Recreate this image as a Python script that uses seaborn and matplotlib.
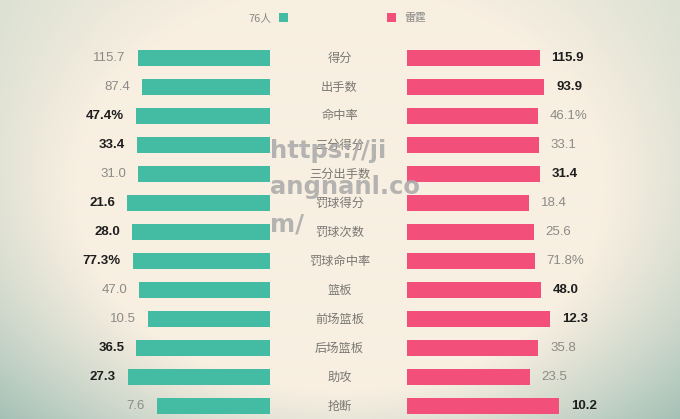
import numpy as np
import pandas as pd
import seaborn as sns
import matplotlib.pyplot as plt
import matplotlib.transforms as mtransforms
from matplotlib.patches import Rectangle

# 数据
categories = ["得分", "出手数", "命中率", "三分得分", "三分出手数", "罚球得分", "罚球次数",
              "罚球命中率", "篮板", "前场篮板", "后场篮板", "助攻", "抢断"]
sixers = [115.7, 87.4, 47.4, 33.4, 31.0, 21.6, 28.0, 77.3, 47.0, 10.5, 36.5, 27.3, 7.6]
thunder = [115.9, 93.9, 46.1, 33.1, 31.4, 18.4, 25.6, 71.8, 48.0, 12.3, 35.8, 23.5, 10.2]
is_pct = [False, False, True, False, False, False, False, True, False, False, False, False, False]
teams = ["76人", "雷霆"]

teal = "#44bba3"
pink = "#f24f7a"
cjk = ["Noto Sans CJK SC", "DejaVu Sans"]
num_font = ["Liberation Sans", "DejaVu Sans"]

df = pd.DataFrame({"cat": categories, "left": sixers, "right": thunder})
df["share_l"] = df["left"] / (df["left"] + df["right"])
df["share_r"] = df["right"] / (df["left"] + df["right"])

sns.set_theme(style="white")
plt.rcParams["font.family"] = cjk

W, H = 680, 419
fig = plt.figure(figsize=(W / 100, H / 100), dpi=100)


def px_rect(x0, y_top, w, h):
    return [x0 / W, 1 - (y_top + h) / H, w / W, h / H]


# 背景（照片式暗角）
bg = fig.add_axes([0, 0, 1, 1], zorder=-5)
yy, xx = np.mgrid[0:H, 0:W]
r = np.sqrt(((xx - W / 2) / (W / 2)) ** 2 + ((yy - H * 0.45) / (H * 0.62)) ** 2)
t = np.clip((r - 0.78) / 0.55, 0, 1)[..., None]
center = np.array([248, 239, 225]) / 255
top_c = np.array([214, 222, 208]) / 255
bot_c = np.array([165, 193, 182]) / 255
edge = top_c + (bot_c - top_c) * (yy / H)[..., None]
img = center * (1 - t) + edge * t
bg.imshow(img, aspect="auto", extent=[0, 1, 0, 1])
bg.axis("off")

scale = 265  # 每行总长度（像素）
axl = fig.add_axes(px_rect(71, 43.5, 199, 377))
axr = fig.add_axes(px_rect(407, 43.5, 199, 377))

sns.barplot(data=df, x="share_l", y="cat", color=teal, saturation=1, width=0.55,
            linewidth=0, ax=axl)
sns.barplot(data=df, x="share_r", y="cat", color=pink, saturation=1, width=0.55,
            linewidth=0, ax=axr)

xmax = 199 / scale
axl.set_xlim(xmax, 0)
axr.set_xlim(0, xmax)
for ax in (axl, axr):
    ax.set_ylim(12.5, -0.5)
    ax.axis("off")
    ax.patch.set_alpha(0)

for i in range(len(categories)):
    l, r_ = sixers[i], thunder[i]
    fmt = "{:.1f}%" if is_pct[i] else "{:.1f}"
    for ax, v, other, share, dx, ha in [
        (axl, l, r_, df["share_l"][i], -8.5, "right"),
        (axr, r_, l, df["share_r"][i], 8.5, "left"),
    ]:
        win = v > other
        ax.annotate(fmt.format(v), (share, i), xytext=(dx, 0), textcoords="offset points",
                    ha=ha, va="center", fontsize=9.5, family=num_font,
                    fontweight="bold" if win else "normal",
                    color="#1e1e1e" if win else "#8c8a86")

# 中间类别名称
trans = mtransforms.blended_transform_factory(fig.transFigure, axl.transData)
for i, c in enumerate(categories):
    axl.text(339.5 / W, i, c, transform=trans, ha="center", va="center",
             fontsize=8.8, color="#7a7874", family=cjk)

# 图例
fig.text(272 / W, 1 - 18 / H, teams[0], ha="right", va="center", fontsize=7.8, color="#8a8884", family=cjk)
fig.text(404 / W, 1 - 18 / H, teams[1], ha="left", va="center", fontsize=7.8, color="#8a8884", family=cjk)
fig.patches.append(Rectangle((279 / W, 1 - 22.5 / H), 8.5 / W, 9 / H, transform=fig.transFigure,
                             facecolor=teal, edgecolor="none"))
fig.patches.append(Rectangle((387 / W, 1 - 22.5 / H), 9 / W, 9 / H, transform=fig.transFigure,
                             facecolor=pink, edgecolor="none"))

# 水印
for line, yb in zip(["https://ji", "angnanl.co", "m/"], [158, 194, 231]):
    fig.text(270 / W, 1 - yb / H, line, ha="left", va="baseline", fontsize=17.5,
             fontweight="bold", color="#a9a9a9", alpha=0.85, family=["DejaVu Sans"])

fig.savefig("out.png", dpi=100)
